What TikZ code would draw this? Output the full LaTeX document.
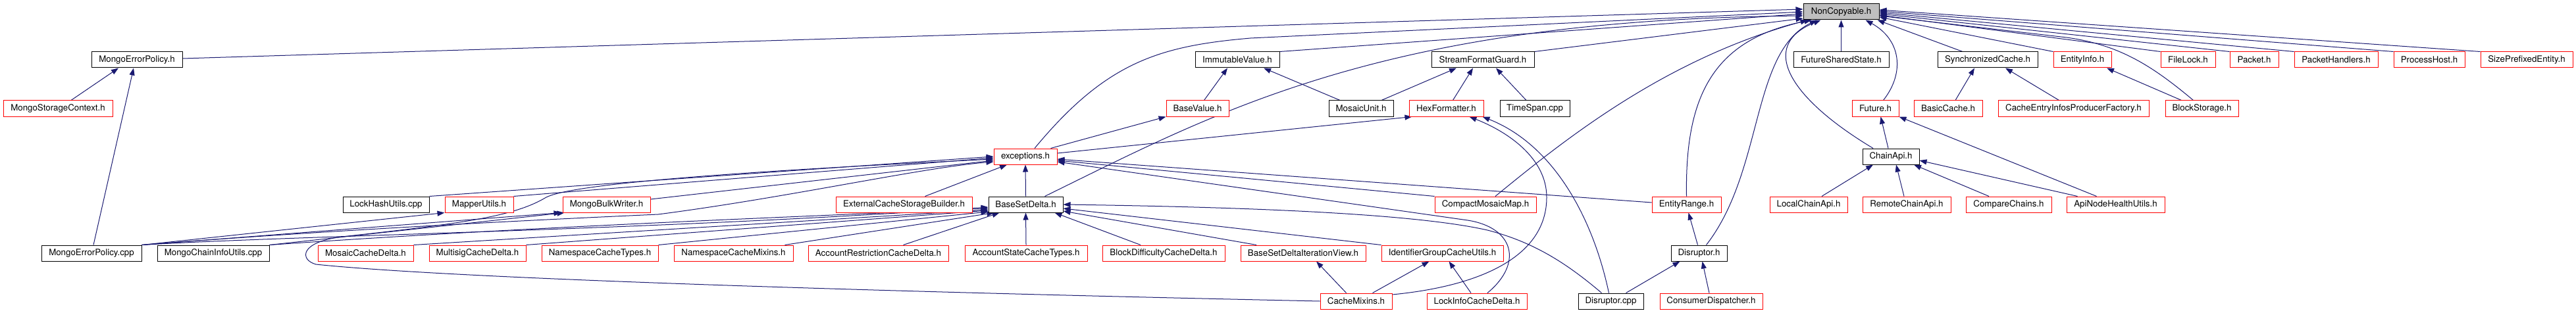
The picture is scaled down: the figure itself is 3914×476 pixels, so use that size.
\documentclass[tikz,border=0pt]{standalone}
\usepackage{fontspec}
\setmainfont{TeX Gyre Heros}
\usetikzlibrary{arrows.meta,backgrounds}
\definecolor{edgeblue}{HTML}{191970}
\definecolor{boxgray}{HTML}{BFBFBF}
\definecolor{boxred}{HTML}{FF0000}
\begin{document}
\begin{tikzpicture}[x=1pt,y=-1pt,
  box/.style={draw, line width=1pt, fill=white, minimum height=24pt, inner sep=0pt,
              font=\fontsize{13.3}{15}\selectfont},
  bk/.style={box, draw=black},
  rd/.style={box, draw=boxred},
  dep/.style={draw=edgeblue, line width=1pt, -{Triangle[length=11pt,width=8pt]}},
]
\useasboundingbox (0,0) rectangle (3914,476);

% row 0
\node[bk, fill=boxgray, minimum width=115] (nc) at (2797.5,18) {NonCopyable.h};
% row 1
\node[bk, minimum width=138] (mepH) at (208,91) {MongoErrorPolicy.h};
\node[bk, minimum width=128] (imm) at (1880,91) {ImmutableValue.h};
\node[bk, minimum width=156] (sfg) at (2253,91) {StreamFormatGuard.h};
\node[bk, minimum width=145] (fss) at (2797.5,91) {FutureSharedState.h};
\node[bk, minimum width=152] (sync) at (3020,91) {SynchronizedCache.h};
\node[rd, minimum width=88] (einfo) at (3164,91) {EntityInfo.h};
\node[rd, minimum width=83] (flock) at (3324.5,91) {FileLock.h};
\node[rd, minimum width=74] (packet) at (3425,91) {Packet.h};
\node[rd, minimum width=127] (phand) at (3549.5,91) {PacketHandlers.h};
\node[rd, minimum width=108] (phost) at (3691,91) {ProcessHost.h};
\node[rd, minimum width=140] (spe) at (3839,91) {SizePrefixedEntity.h};
% row 2
\node[rd, minimum width=166] (msc) at (88,165) {MongoStorageContext.h};
\node[rd, minimum width=95] (bval) at (1819.5,165) {BaseValue.h};
\node[bk, minimum width=98] (munit) at (2068,165) {MosaicUnit.h};
\node[rd, minimum width=113] (hexf) at (2197.5,165) {HexFormatter.h};
\node[bk, minimum width=106] (tspan) at (2332,165) {TimeSpan.cpp};
\node[rd, minimum width=71] (fut) at (2849.5,165) {Future.h};
\node[rd, minimum width=104] (bcache) at (2960,165) {BasicCache.h};
\node[rd, minimum width=229] (ceipf) at (3150.5,165) {CacheEntryInfosProducerFactory.h};
\node[rd, minimum width=111] (bstor) at (3345.5,165) {BlockStorage.h};
% row 3
\node[rd, minimum width=96] (exc) at (1558,238) {exceptions.h};
\node[bk, minimum width=86] (capi) at (2873,238) {ChainApi.h};
% row 4
\node[bk, minimum width=131] (lhu) at (586.5,311) {LockHashUtils.cpp};
\node[rd, minimum width=104] (mapu) at (728,311) {MapperUtils.h};
\node[rd, minimum width=133] (mbw) at (921.5,311) {MongoBulkWriter.h};
\node[rd, minimum width=207] (ecsb) at (1373.5,311) {ExternalCacheStorageBuilder.h};
\node[bk, minimum width=113] (bsd) at (1558.5,311) {BaseSetDelta.h};
\node[rd, minimum width=154] (cmm) at (2257,311) {CompactMosaicMap.h};
\node[rd, minimum width=105] (erange) at (2562.5,311) {EntityRange.h};
\node[rd, minimum width=118] (lca) at (2748,311) {LocalChainApi.h};
\node[rd, minimum width=134] (rca) at (2897,311) {RemoteChainApi.h};
\node[rd, minimum width=130] (cchains) at (3052,311) {CompareChains.h};
\node[rd, minimum width=149] (anhu) at (3214.5,311) {ApiNodeHealthUtils.h};
% row 5
\node[bk, minimum width=152] (mepC) at (139,385) {MongoErrorPolicy.cpp};
\node[bk, minimum width=170] (mciu) at (324,385) {MongoChainInfoUtils.cpp};
\node[rd, minimum width=145] (mcd) at (555.5,385) {MosaicCacheDelta.h};
\node[rd, minimum width=147] (msd) at (725.5,385) {MultisigCacheDelta.h};
\node[rd, minimum width=177] (nct) at (911.5,385) {NamespaceCacheTypes.h};
\node[rd, minimum width=181] (ncm) at (1114.5,385) {NamespaceCacheMixins.h};
\node[rd, minimum width=213] (arcd) at (1334.5,385) {AccountRestrictionCacheDelta.h};
\node[rd, minimum width=186] (asct) at (1559,385) {AccountStateCacheTypes.h};
\node[rd, minimum width=186] (bdcd) at (1768,385) {BlockDifficultyCacheDelta.h};
\node[rd, minimum width=190] (bsdiv) at (1980,385) {BaseSetDeltaIterationView.h};
\node[rd, minimum width=185] (igcu) at (2191.5,385) {IdentifierGroupCacheUtils.h};
\node[bk, minimum width=85] (dish) at (2581.5,385) {Disruptor.h};
% row 6
\node[rd, minimum width=109] (cmix) at (2060.5,458) {CacheMixins.h};
\node[rd, minimum width=152] (licd) at (2244,458) {LockInfoCacheDelta.h};
\node[bk, minimum width=99] (discpp) at (2447.5,458) {Disruptor.cpp};
\node[rd, minimum width=156] (cdisp) at (2600,458) {ConsumerDispatcher.h};

\begin{scope}[on background layer]
% into NonCopyable.h
\draw[dep] ([yshift=2]mepH.east) -- ([yshift=4]nc.west);
\draw[dep] (imm.north east) -- ([yshift=-3]nc.west);
\draw[dep] ([xshift=14]exc.north) .. controls (1680,95) and (1760,70) .. (1900,58) -- (nc.west);
\draw[dep] ([xshift=29]bsd.north) .. controls (1850,170) and (2100,30) .. ([yshift=-6]nc.west);
\draw[dep] (sfg.north east) -- ([yshift=-10]nc.west);
\draw[dep] ([xshift=15]cmm.north) .. controls (2380,210) and (2530,90) .. ([xshift=-51]nc.south);
\draw[dep] (erange.north) .. controls (2560,150) and (2600,60) .. ([xshift=-45]nc.south);
\draw[dep] ([xshift=11]dish.north) .. controls (2680,260) and (2660,80) .. ([xshift=-37]nc.south);
\draw[dep] ([xshift=-27]capi.north) .. controls (2720,150) and (2670,70) .. ([xshift=-31]nc.south);
\draw[dep] (fss.north) -- (nc.south);
\draw[dep] ([xshift=12]fut.north) .. controls (2895,110) and (2888,60) .. ([xshift=37]nc.south);
\draw[dep] ([xshift=-38]sync.north) -- ([xshift=-3]nc.south east);
\draw[dep] (einfo.north west) -- ([yshift=-8]nc.east);
\draw[dep] ([xshift=-13]bstor.north) .. controls (3270,100) and (3220,68) .. (3140,57) -- ([yshift=-6]nc.east);
\draw[dep] (flock.north west) -- ([yshift=-5]nc.east);
\draw[dep] (packet.north west) -- ([yshift=-3]nc.east);
\draw[dep] (phand.north west) -- ([yshift=-1]nc.east);
\draw[dep] (phost.north west) -- ([yshift=1]nc.east);
\draw[dep] (spe.north west) -- ([yshift=3]nc.east);
% Mongo part
\draw[dep] ([xshift=20]msc.north) -- ([xshift=-28]mepH.south);
\draw[dep] ([xshift=3]mepC.north) -- ([xshift=-5]mepH.south);
\draw[dep] (mepC.north east) -- (mapu.south west);
\draw[dep] (mepC.north east) -- ([xshift=-2]mbw.south west);
\draw[dep] (mepC.north east) .. controls (500,350) and (800,335) .. (1000,326) .. controls (1200,300) and (1400,255) .. ([yshift=-8]exc.west);
\draw[dep] (mepC.north east) .. controls (450,358) and (1000,350) .. ([yshift=-4]bsd.west);
\draw[dep] (mciu.north east) -- ([xshift=3]mbw.south west);
\draw[dep] (mciu.north east) .. controls (800,345) and (1200,330) .. ([yshift=-6]bsd.west);
% into exceptions.h
\draw[dep] (lhu.north east) -- (exc.west);
\draw[dep] (mapu.north east) -- ([yshift=-2]exc.west);
\draw[dep] ([yshift=8]mbw.east) -- ([yshift=-6]exc.west);
\draw[dep] (cmix.west) .. controls (1400,445) and (700,425) .. (480,402)
  .. controls (455,395) and (455,368) .. (520,360)
  .. controls (700,340) and (780,330) .. (830,300)
  .. controls (870,280) and (1100,262) .. ([yshift=-4]exc.west);
\draw[dep] ([xshift=32]ecsb.north) -- ([xshift=-28]exc.south);
\draw[dep] (bsd.north) -- (exc.south);
\draw[dep] ([yshift=3]erange.west) -- ([yshift=-4]exc.east);
\draw[dep] (cmm.north west) -- ([yshift=-6]exc.east);
\draw[dep] ([xshift=16]licd.north) .. controls (2315,400) and (2300,346) .. (2230,335) -- ([yshift=-8]exc.east);
% exceptions.h outgoing
\draw[dep] ([xshift=-10]exc.north east) -- (bval.south west);
\draw[dep] ([yshift=5]exc.east) -- ([xshift=5]hexf.south west);
% values / stream
\draw[dep] ([xshift=10]bval.north) -- ([xshift=-15]imm.south);
\draw[dep] ([xshift=-32]munit.north) -- ([xshift=40]imm.south);
\draw[dep] ([xshift=31]munit.north) -- ([xshift=-40]sfg.south);
\draw[dep] ([xshift=10]hexf.north) -- ([xshift=-15]sfg.south);
\draw[dep] ([xshift=-13]tspan.north) -- ([xshift=20]sfg.south);
% into BaseSetDelta.h
\draw[dep] ([xshift=-14]discpp.north) .. controls (2380,400) and (2330,368) .. (2260,350) .. controls (2150,325) and (1900,315) .. (bsd.east);
\draw[dep] (mcd.north east) -- ([yshift=-8]bsd.west);
\draw[dep] (msd.north east) -- ([yshift=-9]bsd.west);
\draw[dep] (nct.north east) -- ([yshift=-11]bsd.west);
\draw[dep] ([xshift=78]ncm.north) -- ([xshift=-48]bsd.south);
\draw[dep] ([xshift=38]arcd.north) -- ([xshift=-40]bsd.south);
\draw[dep] (asct.north) -- (bsd.south);
\draw[dep] ([xshift=-35]bdcd.north) -- ([xshift=44]bsd.south);
\draw[dep] ([xshift=-71]bsdiv.north) -- ([yshift=-10]bsd.east);
\draw[dep] (igcu.north west) -- ([yshift=-6]bsd.east);
% bottom rows
\draw[dep] ([xshift=-15]cmix.north) -- ([xshift=20]bsdiv.south);
\draw[dep] ([xshift=25]cmix.north) -- ([xshift=-20]igcu.south);
\draw[dep] ([xshift=-9]licd.north) -- ([xshift=10]igcu.south);
\draw[dep] ([yshift=10]cmix.east) .. controls (2250,435) and (2350,390) .. (2350,300) .. controls (2350,240) and (2290,200) .. ([xshift=35]hexf.south);
\draw[dep] ([xshift=-3]discpp.north) .. controls (2420,330) and (2360,220) .. ([xshift=55]hexf.south);
\draw[dep] ([xshift=23]discpp.north) -- ([xshift=-29]dish.south);
\draw[dep] ([xshift=-3]cdisp.north) -- ([xshift=5]dish.south);
\draw[dep] ([xshift=-2]dish.north) -- ([xshift=3]erange.south);
% chain api / future / caches
\draw[dep] ([xshift=-4]capi.north) -- ([xshift=8]fut.south);
\draw[dep] ([xshift=20]lca.north) -- ([xshift=-27]capi.south);
\draw[dep] ([xshift=-4]rca.north) -- ([xshift=8]capi.south);
\draw[dep] ([xshift=-30]cchains.north) -- ([xshift=35]capi.south);
\draw[dep] ([xshift=-58]anhu.north) -- ([yshift=-6]capi.east);
\draw[dep] ([xshift=-29]anhu.north) -- (fut.south east);
\draw[dep] ([xshift=11]bcache.north) -- ([xshift=-20]sync.south);
\draw[dep] ([xshift=-22]ceipf.north) -- ([xshift=27]sync.south);
\draw[dep] ([xshift=-31]bstor.north) -- ([xshift=37]einfo.south);
\end{scope}
\end{tikzpicture}
\end{document}
